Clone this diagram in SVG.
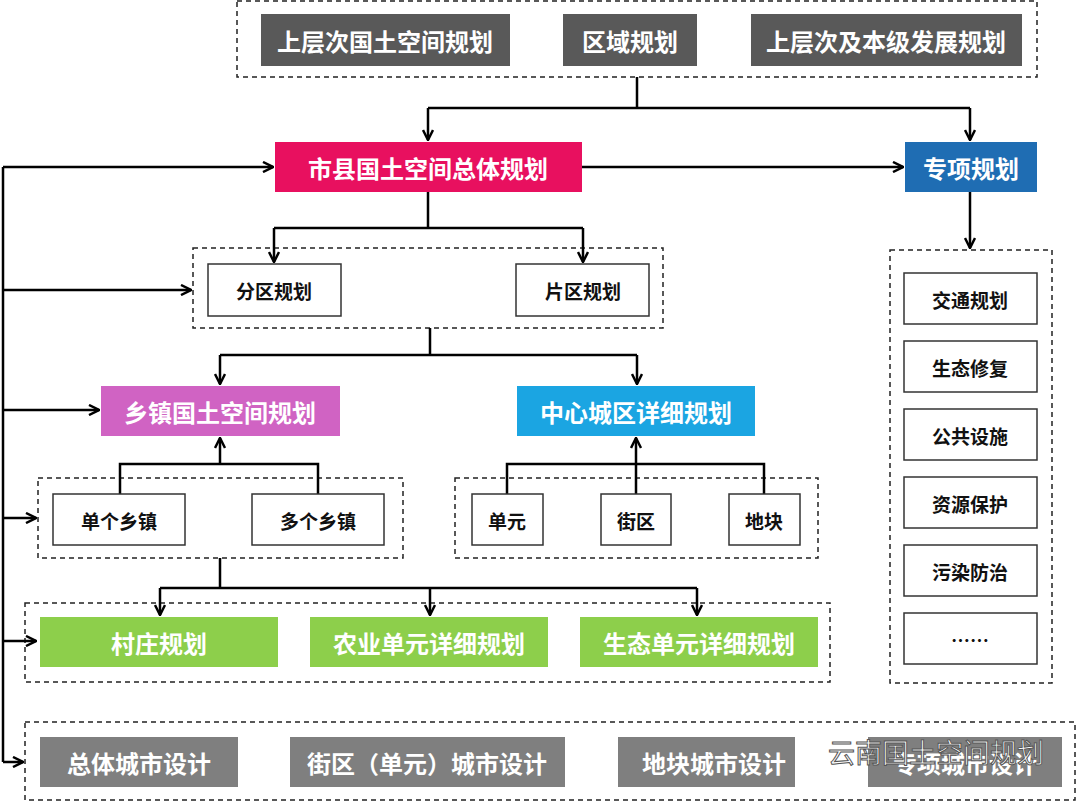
<svg xmlns="http://www.w3.org/2000/svg" width="1080" height="802" viewBox="0 0 1080 802">
<defs>
<marker id="a" viewBox="0 0 10 10" refX="9" refY="5" markerWidth="5" markerHeight="5" orient="auto"><path d="M1,1 L9,5 L1,9" fill="none" stroke="#000" stroke-width="2"/></marker>
<style>
text{font-family:"Noto Sans CJK SC","Noto Sans",sans-serif;font-weight:bold;text-anchor:middle;dominant-baseline:central}
.dash{fill:none;stroke:#222;stroke-width:1.5;stroke-dasharray:5 4}
.g{fill:#595959}.w{fill:#fff;font-size:24px}
.b{fill:#fff;stroke:#333;stroke-width:1.5}.k{fill:#111;font-size:19px}
.c line,.c path{stroke:#000;stroke-width:2.5;fill:none}
</style>
</defs>
<rect width="1080" height="802" fill="#fff"/>
<rect class="dash" x="237" y="1" width="800" height="76"/>
<rect class="dash" x="890" y="250" width="162" height="433"/>
<rect class="dash" x="193" y="248" width="470" height="80"/>
<rect class="dash" x="38" y="478" width="365" height="80"/>
<rect class="dash" x="455" y="478" width="363" height="80"/>
<rect class="dash" x="25" y="603" width="805" height="79"/>
<rect class="dash" x="25" y="722" width="1050" height="78"/>
<g class="c">
<path d="M637,77 V108 M428,108 H970"/>
<line x1="428" y1="108" x2="428" y2="140" marker-end="url(#a)"/>
<line x1="970" y1="108" x2="970" y2="140" marker-end="url(#a)"/>
<line x1="582" y1="167" x2="903" y2="167" marker-end="url(#a)"/>
<line x1="970" y1="192" x2="970" y2="248" marker-end="url(#a)"/>
<path d="M3,167 V762"/>
<line x1="3" y1="167" x2="273" y2="167" marker-end="url(#a)"/>
<line x1="3" y1="290" x2="191" y2="290" marker-end="url(#a)"/>
<line x1="3" y1="410" x2="99" y2="410" marker-end="url(#a)"/>
<line x1="3" y1="518" x2="36" y2="518" marker-end="url(#a)"/>
<line x1="3" y1="641" x2="36" y2="641" marker-end="url(#a)"/>
<line x1="3" y1="762" x2="23" y2="762" marker-end="url(#a)"/>
<path d="M428,192 V228 M274,228 H583"/>
<line x1="274" y1="228" x2="274" y2="262" marker-end="url(#a)"/>
<line x1="583" y1="228" x2="583" y2="262" marker-end="url(#a)"/>
<path d="M430,328 V355 M220,355 H637"/>
<line x1="220" y1="355" x2="220" y2="384" marker-end="url(#a)"/>
<line x1="637" y1="355" x2="637" y2="384" marker-end="url(#a)"/>
<path d="M120,494 V464 H318 V494"/>
<line x1="220" y1="464" x2="220" y2="438" marker-end="url(#a)"/>
<path d="M507,494 V464 H764 V494 M636,464 V494"/>
<line x1="636" y1="464" x2="636" y2="438" marker-end="url(#a)"/>
<path d="M220,558 V588 M160,588 H697"/>
<line x1="160" y1="588" x2="160" y2="615" marker-end="url(#a)"/>
<line x1="430" y1="588" x2="430" y2="615" marker-end="url(#a)"/>
<line x1="697" y1="588" x2="697" y2="615" marker-end="url(#a)"/>
</g>
<g id="n1"><rect class="g" x="261" y="14" width="249" height="52"/><text class="w" x="385" y="40">上层次国土空间规划</text></g>
<g id="n2"><rect class="g" x="563" y="14" width="134" height="52"/><text class="w" x="630" y="40">区域规划</text></g>
<g id="n3"><rect class="g" x="751" y="14" width="271" height="52"/><text class="w" x="886" y="40">上层次及本级发展规划</text></g>
<g id="n4"><rect fill="#E8105F" x="275" y="142" width="307" height="50"/><text class="w" x="428" y="167">市县国土空间总体规划</text></g>
<g id="n5"><rect fill="#1F6DB3" x="905" y="142" width="132" height="50"/><text class="w" x="971" y="167">专项规划</text></g>
<g id="n6"><rect class="b" x="904" y="273" width="133" height="51"/><text class="k" x="970" y="299">交通规划</text></g>
<g id="n7"><rect class="b" x="904" y="341" width="133" height="51"/><text class="k" x="970" y="367">生态修复</text></g>
<g id="n8"><rect class="b" x="904" y="409" width="133" height="51"/><text class="k" x="970" y="435">公共设施</text></g>
<g id="n9"><rect class="b" x="904" y="477" width="133" height="51"/><text class="k" x="970" y="503">资源保护</text></g>
<g id="n10"><rect class="b" x="904" y="545" width="133" height="51"/><text class="k" x="970" y="571">污染防治</text></g>
<g id="n11"><rect class="b" x="904" y="613" width="133" height="51"/><text class="k" x="970" y="639">……</text></g>
<g id="n12"><rect class="b" x="208" y="264" width="133" height="52"/><text class="k" x="274" y="290">分区规划</text></g>
<g id="n13"><rect class="b" x="516" y="264" width="133" height="52"/><text class="k" x="583" y="290">片区规划</text></g>
<g id="n14"><rect fill="#D063C3" x="101" y="386" width="239" height="50"/><text class="w" x="220" y="411">乡镇国土空间规划</text></g>
<g id="n15"><rect fill="#1BA5E2" x="517" y="386" width="238" height="50"/><text class="w" x="636" y="411">中心城区详细规划</text></g>
<g id="n16"><rect class="b" x="53" y="494" width="132" height="51"/><text class="k" x="119" y="520">单个乡镇</text></g>
<g id="n17"><rect class="b" x="252" y="494" width="132" height="51"/><text class="k" x="318" y="520">多个乡镇</text></g>
<g id="n18"><rect class="b" x="472" y="494" width="71" height="51"/><text class="k" x="507" y="520">单元</text></g>
<g id="n19"><rect class="b" x="601" y="494" width="70" height="51"/><text class="k" x="636" y="520">街区</text></g>
<g id="n20"><rect class="b" x="729" y="494" width="71" height="51"/><text class="k" x="764" y="520">地块</text></g>
<g id="n21"><rect fill="#8DCF4B" x="40" y="617" width="238" height="50"/><text class="w" x="159" y="642">村庄规划</text></g>
<g id="n22"><rect fill="#8DCF4B" x="310" y="617" width="238" height="50"/><text class="w" x="429" y="642">农业单元详细规划</text></g>
<g id="n23"><rect fill="#8DCF4B" x="580" y="617" width="238" height="50"/><text class="w" x="699" y="642">生态单元详细规划</text></g>
<g id="n24"><rect fill="#7F7F7F" x="40" y="737" width="198" height="50"/><text class="w" x="139" y="762">总体城市设计</text></g>
<g id="n25"><rect fill="#7F7F7F" x="290" y="737" width="275" height="50"/><text class="w" x="427" y="762">街区（单元）城市设计</text></g>
<g id="n26"><rect fill="#7F7F7F" x="618" y="737" width="177" height="50"/><text class="w" x="714" y="762">地块城市设计</text></g>
<g id="n27"><rect fill="#7F7F7F" x="868" y="737" width="194" height="50"/><text class="w" x="965" y="762">专项城市设计</text></g>
<text x="936" y="751" style="font-size:27px;font-weight:normal;fill:#fff;stroke:#555;stroke-width:1">云南国土空间规划</text>
</svg>
